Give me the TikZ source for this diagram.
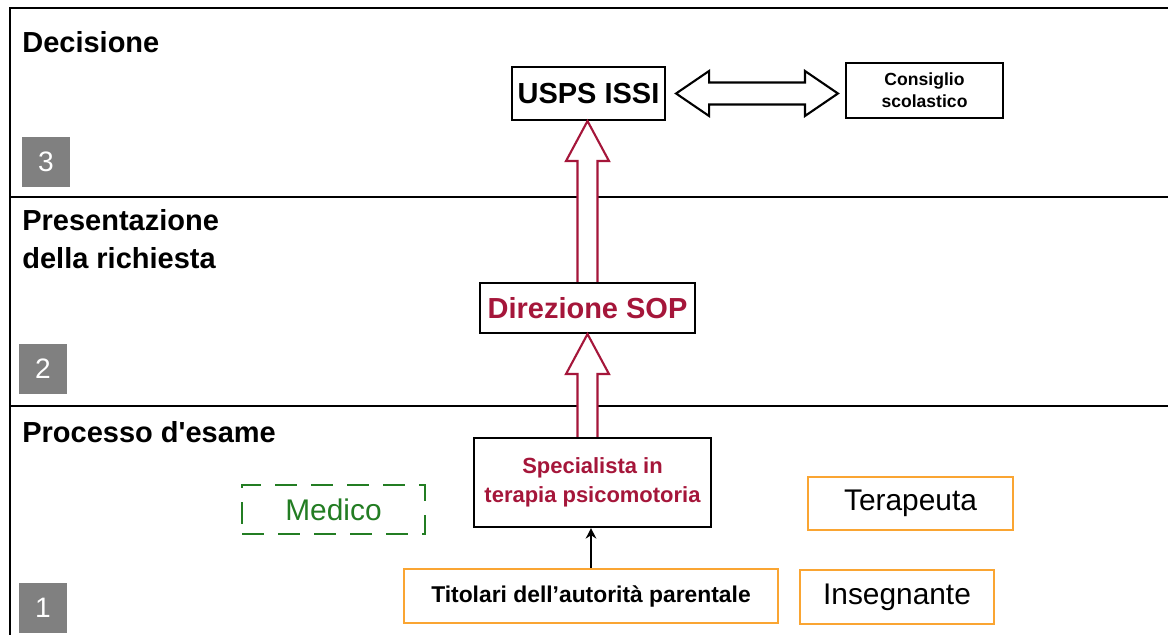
\documentclass[tikz,border=0pt]{standalone}
\usepackage{fontspec}
\setmainfont{Liberation Sans}
\usetikzlibrary{calc,arrows.meta}
\definecolor{sopred}{RGB}{165,22,58}
\definecolor{parorange}{RGB}{250,165,50}
\definecolor{medgreen}{RGB}{35,125,35}
\definecolor{numgrey}{RGB}{128,128,128}

\begin{document}
\begin{tikzpicture}[
        box/.style={draw, line width=1.2pt, minimum height=1.06cm, inner sep=2pt},
        obox/.style={box, draw=parorange},
        num/.style={fill=numgrey, text=white, minimum width=.96cm, minimum height=1cm, inner sep=0pt, font=\fontsize{16}{16}\selectfont},
        phase/.style={anchor=west, align=left, inner sep=0pt, font=\fontsize{16.5}{21.5}\selectfont\bfseries},
        bigarr/.style={draw=sopred, fill=white, line width=1.2pt},
        dblarr/.style={draw=black, fill=white, line width=1.2pt}
    ]
            \useasboundingbox (0,0) rectangle (23.36,12.7);

            \draw[line width=1pt] (23.36,12.54) -- (.2,12.54) -- (.2,0);
            \draw[line width=1pt] (.2,8.76) -- (23.36,8.76);
            \draw[line width=1pt] (.2,4.58) -- (23.36,4.58);

            \node[phase] (dec) at (.44,11.86) {Decisione};
            \node[phase] (pres) at (.44,7.92) {Presentazione\\della richiesta};
            \node[phase] (proc) at (.44,4.06) {Processo d\textquotesingle esame};
            \node[num] (n3) at (.92,9.46) {3};
            \node[num] (n2) at (.86,5.32) {2};
            \node[num] (n1) at (.86,.54) {1};

            \node[box, minimum width=3.06cm, font=\fontsize{16.5}{20}\selectfont\bfseries] (usps) at (11.77,10.83) {USPS ISSI};
            \node[box, minimum width=3.14cm, minimum height=1.1cm, align=center, font=\fontsize{10}{12.5}\selectfont\bfseries] (cons) at (18.49,10.89) {Consiglio\\scolastico};
            \node[box, minimum width=4.3cm, minimum height=1cm, text=sopred, font=\fontsize{16.5}{20}\selectfont\bfseries] (sop) at (11.75,6.54) {Direzione SOP};
            \node[box, minimum width=4.74cm, minimum height=1.78cm, align=center, text=sopred, font=\fontsize{12.5}{16.4}\selectfont\bfseries] (spec) at (11.85,3.05) {Specialista in\\terapia psicomotoria};
            \node[box, draw=medgreen, dash pattern=on 12.5pt off 8pt, minimum width=3.66cm, minimum height=.98cm, text=medgreen, font=\fontsize{17}{20}\selectfont] (med) at (6.67,2.51) {Medico};
            \node[obox, minimum width=4.1cm, font=\fontsize{17}{20}\selectfont] (ter) at (18.21,2.63) {Terapeuta};
            \node[obox, minimum width=7.48cm, minimum height=1.08cm, font=\fontsize{13}{16}\selectfont\bfseries] (tit) at (11.82,.78) {Titolari dell’autorità parentale};
            \node[obox, minimum width=3.88cm, minimum height=1.08cm, font=\fontsize{17}{20}\selectfont] (ins) at (17.94,.76) {Insegnante};

            \draw[bigarr] ($(sop.north)+(-.2,0)$) -- ($(sop.north|-usps.south)+(-.2,-.8)$) -- ($(sop.north|-usps.south)+(-.43,-.8)$) -- (sop.north|-usps.south) -- ($(sop.north|-usps.south)+(.43,-.8)$) -- ($(sop.north|-usps.south)+(.2,-.8)$) -- ($(sop.north)+(.2,0)$);
            \draw[bigarr] ($(sop.south|-spec.north)+(-.2,0)$) -- ($(sop.south)+(-.2,-.8)$) -- ($(sop.south)+(-.43,-.8)$) -- (sop.south) -- ($(sop.south)+(.43,-.8)$) -- ($(sop.south)+(.2,-.8)$) -- ($(sop.south|-spec.north)+(.2,0)$);

            \coordinate (dl) at ($(usps.east)+(.2,0)$);
            \coordinate (dr) at ($(cons.west|-usps.east)+(-.14,0)$);
            \draw[dblarr] (dl) -- ($(dl)+(.66,.45)$) -- ($(dl)+(.66,.22)$) -- ($(dr)+(-.66,.22)$) -- ($(dr)+(-.66,.45)$) -- (dr) -- ($(dr)+(-.66,-.45)$) -- ($(dr)+(-.66,-.22)$) -- ($(dl)+(.66,-.22)$) -- ($(dl)+(.66,-.45)$) -- cycle;

            \draw[-{Stealth[length=6pt,width=6pt]}, line width=1.2pt] (tit.north) to (tit.north|-spec.south);
        \end{tikzpicture}
\end{document}
